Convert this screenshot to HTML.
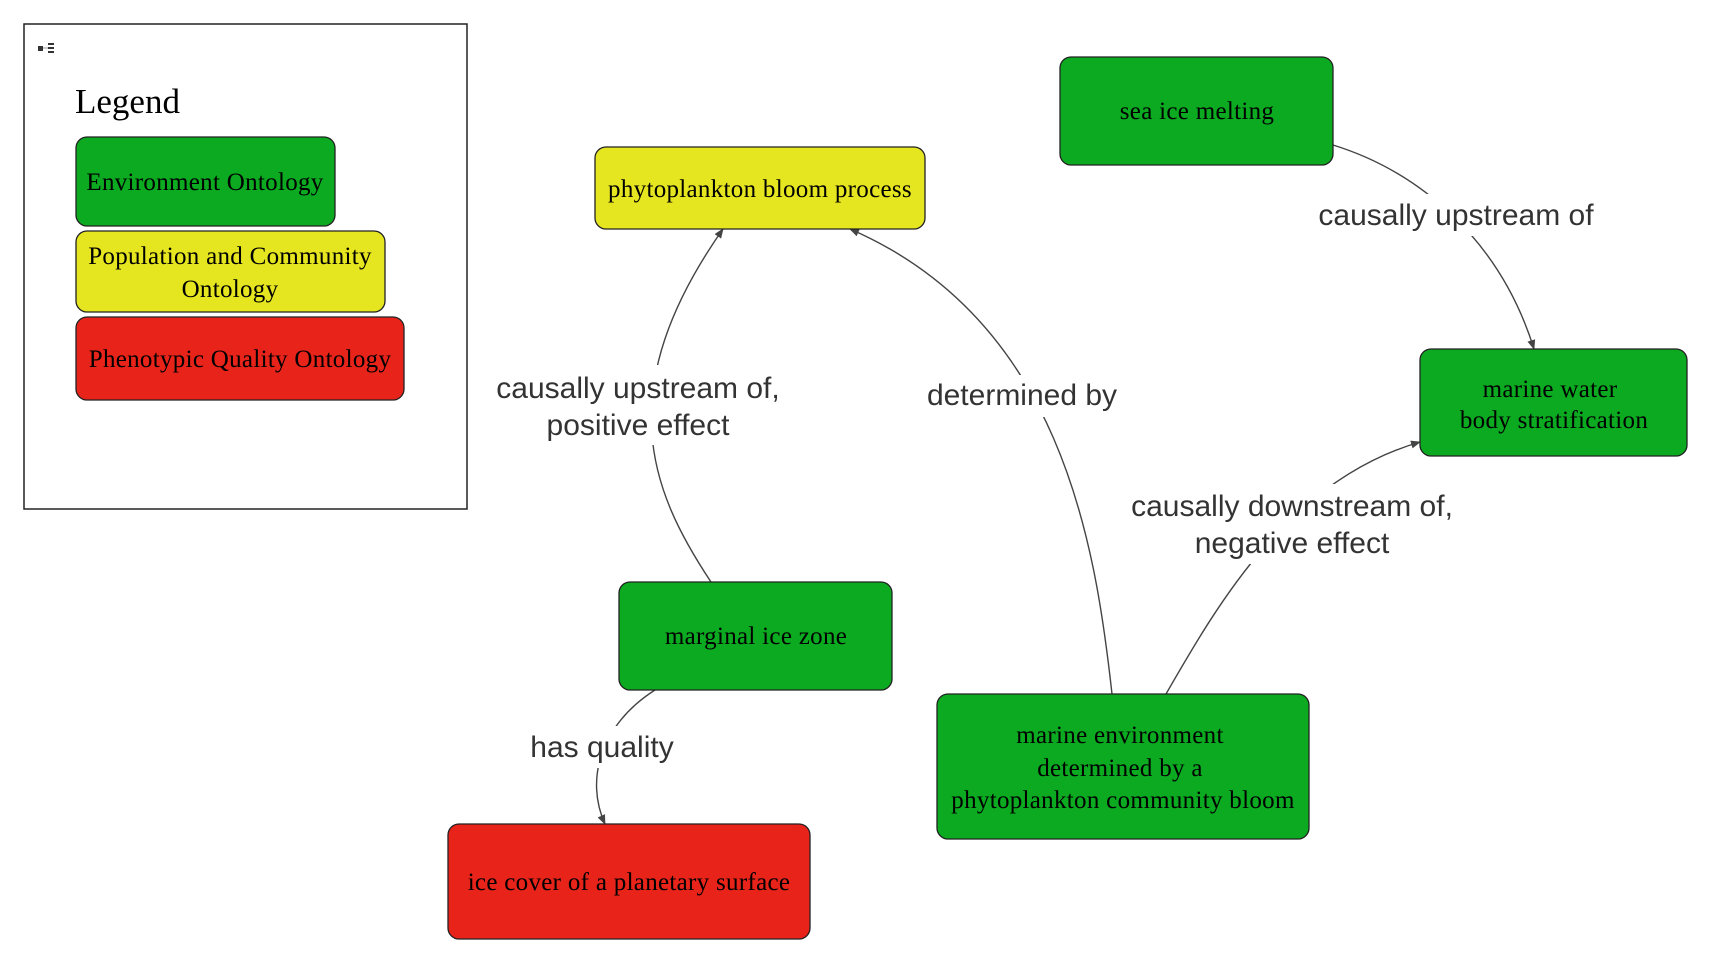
<!DOCTYPE html>
<html><head><meta charset="utf-8"><style>
html,body{margin:0;padding:0;background:#fff;}
svg{display:block;}
.node{stroke:#222;stroke-width:1.3;}
.nt{font-family:"Liberation Serif",serif;font-size:25px;fill:#000;text-anchor:middle;letter-spacing:0.3px;}
.el{font-family:"Liberation Sans",sans-serif;font-size:30px;fill:#333;text-anchor:middle;}
.edge{fill:none;stroke:#444;stroke-width:1.4;}
</style></head><body>
<svg width="1711" height="963" viewBox="0 0 1711 963">
<defs><marker id="ar" markerWidth="10" markerHeight="10" refX="9" refY="5" orient="auto" markerUnits="userSpaceOnUse"><path d="M0,1 L10,5 L0,9 z" fill="#444"/></marker></defs>

<g>
<rect x="24" y="24" width="443" height="485" fill="#fff" stroke="#222" stroke-width="1.5"/>
<g>
<rect x="38" y="46" width="5" height="5" fill="#333"/>
<rect x="48" y="43" width="6" height="2" fill="#333"/><rect x="48" y="47" width="6" height="2" fill="#333"/><rect x="48" y="51" width="6" height="2" fill="#333"/>
<line x1="43" y1="48" x2="48" y2="48" stroke="#999"/>
</g>
<text x="75" y="113" font-family="Liberation Serif,serif" font-size="35" fill="#000">Legend</text>
<rect class="node" x="76" y="137" width="259" height="89" rx="11" fill="#0baa20"/>
<text class="nt" x="205" y="190">Environment Ontology</text>
<rect class="node" x="76" y="231" width="309" height="81" rx="11" fill="#e6e620"/>
<text class="nt" x="230" y="264">Population and Community</text>
<text class="nt" x="230" y="297">Ontology</text>
<rect class="node" x="76" y="317" width="328" height="83" rx="11" fill="#e8231a"/>
<text class="nt" x="240" y="367">Phenotypic Quality Ontology</text>
</g>

<g>
<path class="edge" d="M711,582 C650,490 610,390 723,229" marker-end="url(#ar)"/>
<path class="edge" d="M1112,694 C1095,540 1060,320 850,229" marker-end="url(#ar)"/>
<path class="edge" d="M1333,145 C1420,172 1500,240 1534,349" marker-end="url(#ar)"/>
<path class="edge" d="M1166,694 C1220,600 1290,480 1420,442" marker-end="url(#ar)"/>
<path class="edge" d="M655,690 C600,725 585,780 605,824" marker-end="url(#ar)"/>
</g>

<g>
<rect x="480" y="365" width="318" height="80" fill="#fff"/>
<text class="el" x="638" y="398">causally upstream of,</text>
<text class="el" x="638" y="435">positive effect</text>
<rect x="912" y="375" width="220" height="42" fill="#fff"/>
<text class="el" x="1022" y="405">determined by</text>
<rect x="1300" y="194" width="312" height="42" fill="#fff"/>
<text class="el" x="1456" y="225">causally upstream of</text>
<rect x="1112" y="484" width="360" height="80" fill="#fff"/>
<text class="el" x="1292" y="516">causally downstream of,</text>
<text class="el" x="1292" y="553">negative effect</text>
<rect x="522" y="726" width="162" height="42" fill="#fff"/>
<text class="el" x="602" y="757">has quality</text>
</g>

<g>
<rect class="node" x="1060" y="57" width="273" height="108" rx="11" fill="#0baa20"/>
<text class="nt" x="1197" y="119">sea ice melting</text>
<rect class="node" x="595" y="147" width="330" height="82" rx="11" fill="#e6e620"/>
<text class="nt" x="760" y="197">phytoplankton bloom process</text>
<rect class="node" x="1420" y="349" width="267" height="107" rx="11" fill="#0baa20"/>
<text class="nt" x="1550" y="397">marine water</text>
<text class="nt" x="1554" y="428">body stratification</text>
<rect class="node" x="619" y="582" width="273" height="108" rx="11" fill="#0baa20"/>
<text class="nt" x="756" y="644">marginal ice zone</text>
<rect class="node" x="937" y="694" width="372" height="145" rx="11" fill="#0baa20"/>
<text class="nt" x="1120" y="743">marine environment</text>
<text class="nt" x="1120" y="776">determined by a</text>
<text class="nt" x="1123" y="808">phytoplankton community bloom</text>
<rect class="node" x="448" y="824" width="362" height="115" rx="11" fill="#e8231a"/>
<text class="nt" x="629" y="890">ice cover of a planetary surface</text>
</g>
</svg>
</body></html>
